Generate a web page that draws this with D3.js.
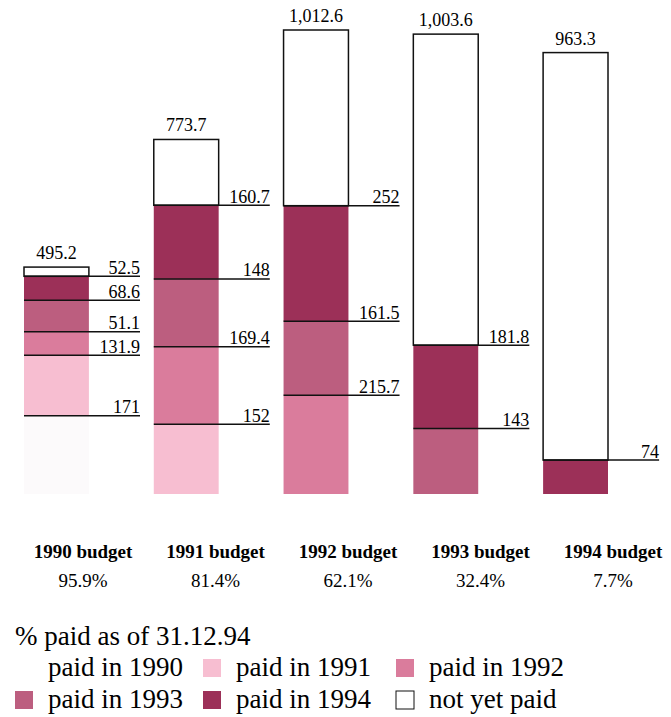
<!DOCTYPE html>
<html>
<head>
<meta charset="utf-8">
<script src="https://cdn.jsdelivr.net/npm/d3@7"></script>
</head>
<body style="margin:0">
<div id="chart"></div>
<script>
var width = 671;
var height = 717;
var fontName = "'Liberation Serif'";

// budgets and what was paid in each year (millions)
const budgets = ["1990 budget", "1991 budget", "1992 budget", "1993 budget", "1994 budget"];
const totals = [495.2, 773.7, 1012.6, 1003.6, 963.3];
const paid1990 = [171, 0, 0, 0, 0];
const paid1991 = [131.9, 152, 0, 0, 0];
const paid1992 = [51.1, 169.4, 215.7, 0, 0];
const paid1993 = [68.6, 148, 161.5, 143, 0];
const paid1994 = [52.5, 160.7, 252, 181.8, 74];

const keys = ["paid in 1990", "paid in 1991", "paid in 1992", "paid in 1993", "paid in 1994", "not yet paid"];
const colors = ["#fcfafb", "#f7bed1", "#da7c9c", "#bc5e7f", "#9c3058", "#ffffff"];

const rows = budgets.map(function (b, i) {
	const paid = paid1990[i] + paid1991[i] + paid1992[i] + paid1993[i] + paid1994[i];
	return {
		budget: b,
		total: totals[i],
		"paid in 1990": paid1990[i],
		"paid in 1991": paid1991[i],
		"paid in 1992": paid1992[i],
		"paid in 1993": paid1993[i],
		"paid in 1994": paid1994[i],
		"not yet paid": totals[i] - paid,
		pct: paid / totals[i] * 100
	};
});

var svg = d3
	.select("#chart")
	.append("svg")
	.attr("width", width)
	.attr("height", height);

var x = d3.scaleBand().domain(budgets).range([24, 608]).paddingInner(0.5).paddingOuter(0);
var xLabel = d3.scalePoint().domain(budgets).range([83, 613]);
var y = d3.scaleLinear().domain([0, 1012.6]).range([494, 30]);
var color = d3.scaleOrdinal().domain(keys).range(colors);

var series = d3.stack().keys(keys)(rows);

// segments
series.forEach(function (s) {
	var g = svg.append("g");
	s.forEach(function (d) {
		if (d[1] - d[0] <= 0) return;
		var unpaid = s.key === "not yet paid";
		g.append("rect")
			.attr("x", x(d.data.budget))
			.attr("y", y(d[1]))
			.attr("width", x.bandwidth())
			.attr("height", y(d[0]) - y(d[1]))
			.attr("fill", color(s.key))
			.attr("stroke", unpaid ? "#111" : "none")
			.attr("stroke-width", 1.5);
	});
});

// value lines and labels at top of each paid segment
series.forEach(function (s) {
	if (s.key === "not yet paid") return;
	s.forEach(function (d) {
		var v = d[1] - d[0];
		if (v <= 0) return;
		var x0 = x(d.data.budget);
		svg.append("line")
			.attr("x1", x0)
			.attr("x2", x0 + 116)
			.attr("y1", y(d[1]))
			.attr("y2", y(d[1]))
			.attr("stroke", "#111")
			.attr("stroke-width", 1.5);
		svg.append("text")
			.attr("x", x0 + 116)
			.attr("y", y(d[1]) - 2.5)
			.attr("text-anchor", "end")
			.attr("font-size", 18)
			.style("font-family", fontName)
			.text(Math.round(v * 10) / 10);
	});
});

// totals above bars
svg.selectAll(".total")
	.data(rows)
	.join("text")
	.attr("class", "total")
	.attr("x", (d) => x(d.budget) + x.bandwidth() / 2)
	.attr("y", (d) => y(d.total) - 8)
	.attr("text-anchor", "middle")
	.attr("font-size", 18)
	.style("font-family", fontName)
	.text((d) => d3.format(",.1f")(d.total));

// budget names and percent paid
svg.selectAll(".name")
	.data(rows)
	.join("text")
	.attr("class", "name")
	.attr("x", (d) => xLabel(d.budget))
	.attr("y", 558)
	.attr("text-anchor", "middle")
	.attr("font-size", 19)
	.attr("font-weight", "bold")
	.style("font-family", fontName)
	.text((d) => d.budget);

svg.selectAll(".pct")
	.data(rows)
	.join("text")
	.attr("class", "pct")
	.attr("x", (d) => xLabel(d.budget))
	.attr("y", 587)
	.attr("text-anchor", "middle")
	.attr("font-size", 19)
	.style("font-family", fontName)
	.text((d) => d3.format(".1f")(d.pct) + "%");

// legend
svg.append("text")
	.attr("x", 15)
	.attr("y", 645)
	.attr("font-size", 27)
	.style("font-family", fontName)
	.text("% paid as of 31.12.94");

var legend = svg.selectAll(".leg")
	.data(keys)
	.join("g")
	.attr("class", "leg")
	.attr("transform", (d, i) => "translate(" + [15, 203, 396][i % 3] + "," + (676 + Math.floor(i / 3) * 32) + ")");

legend.append("rect")
	.attr("x", 0)
	.attr("y", -17)
	.attr("width", 18)
	.attr("height", 18)
	.attr("fill", (d) => (d === "paid in 1990" ? "none" : color(d)))
	.attr("stroke", (d) => (d === "not yet paid" ? "#111" : "none"))
	.attr("stroke-width", 1);

legend.append("text")
	.attr("x", 33)
	.attr("y", 0)
	.attr("font-size", 27)
	.style("font-family", fontName)
	.text((d) => d);
</script>
</body>
</html>
